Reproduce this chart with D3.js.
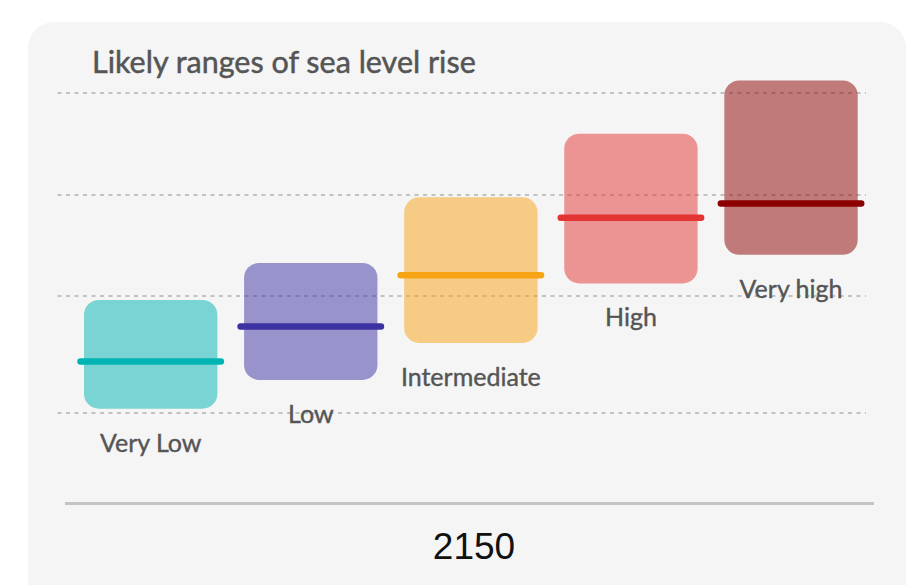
<!DOCTYPE html>
<html>
<head>
<meta charset="utf-8">
<script src="https://cdn.jsdelivr.net/npm/d3@7"></script>
<style>
  html, body { margin: 0; padding: 0; background: #ffffff; }
  svg { display: block; }
</style>
</head>
<body>
<svg id="chart" width="918" height="585"></svg>
<script>
// Scenario categories and their likely ranges (metres of rise by 2150)
const scenarios = ["Very Low", "Low", "Intermediate", "High", "Very high"];
const lowValues    = [0.46, 0.60, 0.78, 1.07, 1.21];
const medianValues = [0.69, 0.86, 1.11, 1.39, 1.46];
const highValues   = [0.99, 1.17, 1.49, 1.80, 2.06];
const scenarioColors = ["#00b4b4", "#3c32a2", "#f7a414", "#e33333", "#8b0000"];
const gridValues = [0.44, 1.01, 1.50, 2.00];
const yearLabel = "2150";
const chartTitle = "Likely ranges of sea level rise";

const svg = d3.select("#chart");

// Card background
svg.append("rect")
  .attr("x", 28).attr("y", 22)
  .attr("width", 878).attr("height", 640)
  .attr("rx", 26).attr("ry", 26)
  .attr("fill", "#f5f5f5");

// Scales
const x = d3.scaleBand()
  .domain(scenarios)
  .range([84, 857.7])
  .paddingInner(0.167)
  .paddingOuter(0);

const y = d3.scaleLinear()
  .domain([0, 2])
  .range([503, 92.7]);

const rows = scenarios.map((s, i) => ({
  name: s,
  low: lowValues[i],
  median: medianValues[i],
  high: highValues[i],
  color: scenarioColors[i]
}));

// Dashed gridlines (snapped to whole pixels so the dashes stay crisp)
svg.append("g")
  .selectAll("line")
  .data(gridValues)
  .join("line")
  .attr("x1", 57.5).attr("x2", 866)
  .attr("y1", d => Math.round(y(d))).attr("y2", d => Math.round(y(d)))
  .attr("stroke", "#c2c2c2")
  .attr("stroke-width", 2)
  .attr("stroke-dasharray", "4 4.5");

// Title
svg.append("text")
  .attr("x", 92).attr("y", 73)
  .attr("font-family", "Lato, 'Noto Sans', sans-serif")
  .attr("font-size", 30.5)
  .attr("fill", "#555555")
  .attr("stroke", "#555555")
  .attr("stroke-width", 0.5)
  .text(chartTitle);

// Range boxes
svg.append("g")
  .selectAll("rect")
  .data(rows)
  .join("rect")
  .attr("x", d => x(d.name))
  .attr("width", x.bandwidth())
  .attr("y", d => y(d.high))
  .attr("height", d => y(d.low) - y(d.high))
  .attr("rx", 15).attr("ry", 15)
  .attr("fill", d => d.color)
  .attr("fill-opacity", 0.5);

// Median lines
svg.append("g")
  .selectAll("line")
  .data(rows)
  .join("line")
  .attr("x1", d => x(d.name) - 3.5)
  .attr("x2", d => x(d.name) + x.bandwidth() + 3.5)
  .attr("y1", d => y(d.median))
  .attr("y2", d => y(d.median))
  .attr("stroke", d => d.color)
  .attr("stroke-width", 6.5)
  .attr("stroke-linecap", "round");

// Scenario labels beneath each box
svg.append("g")
  .selectAll("text")
  .data(rows)
  .join("text")
  .attr("x", d => x(d.name) + x.bandwidth() / 2)
  .attr("y", d => y(d.low) + 43)
  .attr("text-anchor", "middle")
  .attr("font-family", "Lato, 'Noto Sans', sans-serif")
  .attr("font-size", 25)
  .attr("fill", "#555555")
  .attr("stroke", "#555555")
  .attr("stroke-width", 0.4)
  .text(d => d.name);

// Baseline and year label
svg.append("line")
  .attr("x1", 65).attr("x2", 874)
  .attr("y1", 503.5).attr("y2", 503.5)
  .attr("stroke", "#c4c4c4")
  .attr("stroke-width", 3);

svg.append("text")
  .attr("x", 474).attr("y", 559)
  .attr("text-anchor", "middle")
  .attr("font-family", "'Liberation Sans', Arial, sans-serif")
  .attr("font-size", 37)
  .attr("fill", "#111111")
  .text(yearLabel);
</script>
</body>
</html>
